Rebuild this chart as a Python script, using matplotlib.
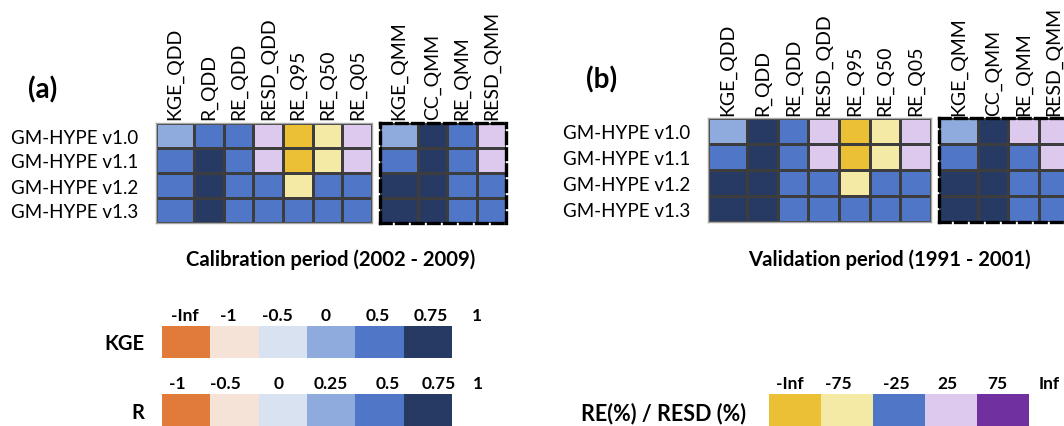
import numpy as np
import matplotlib
matplotlib.use("Agg")
import matplotlib.pyplot as plt
from matplotlib.colors import ListedColormap
from matplotlib.transforms import blended_transform_factory

plt.rcParams['font.family'] = ['Lato', 'DejaVu Sans']

W, H = 1064, 427

# ---------------------------------------------------------------- data
models = ["GM-HYPE v1.0", "GM-HYPE v1.1", "GM-HYPE v1.2", "GM-HYPE v1.3"]
daily_metrics = ["KGE_QDD", "R_QDD", "RE_QDD", "RESD_QDD", "RE_Q95", "RE_Q50", "RE_Q05"]
monthly_metrics = ["KGE_QMM", "CC_QMM", "RE_QMM", "RESD_QMM"]
daily_kind = ["KGE", "R", "RE", "RE", "RE", "RE", "RE"]
monthly_kind = ["KGE", "R", "RE", "RE"]

# calibration period 2002-2009 (rows: v1.0 .. v1.3)
cal_kge_qdd = [0.40, 0.62, 0.66, 0.70]
cal_r_qdd = [0.72, 0.80, 0.82, 0.83]
cal_re_qdd = [-12, 6, 4, 2]
cal_resd_qdd = [36, 31, 12, 8]
cal_re_q95 = [-86, -81, -58, -18]
cal_re_q50 = [-41, -36, -14, -9]
cal_re_q05 = [42, 33, 16, 11]
cal_kge_qmm = [0.46, 0.71, 0.80, 0.82]
cal_cc_qmm = [0.86, 0.88, 0.90, 0.90]
cal_re_qmm = [-11, 5, 3, 2]
cal_resd_qmm = [31, 29, 15, 12]

# validation period 1991-2001
val_kge_qdd = [0.42, 0.61, 0.76, 0.78]
val_r_qdd = [0.78, 0.80, 0.82, 0.83]
val_re_qdd = [16, 11, 5, 3]
val_resd_qdd = [37, 30, 12, 8]
val_re_q95 = [-85, -80, -55, -20]
val_re_q50 = [-35, -31, -15, -10]
val_re_q05 = [46, 35, 15, 10]
val_kge_qmm = [0.45, 0.70, 0.80, 0.82]
val_cc_qmm = [0.86, 0.88, 0.90, 0.90]
val_re_qmm = [31, 20, 10, 5]
val_resd_qmm = [35, 30, 15, 10]

# class boundaries and legend labels
kge_bounds = [-np.inf, -1, -0.5, 0, 0.5, 0.75, 1]
r_bounds = [-1, -0.5, 0, 0.25, 0.5, 0.75, 1]
re_bounds = [-np.inf, -75, -25, 25, 75, np.inf]
kge_ticklabels = ["-Inf", "-1", "-0.5", "0", "0.5", "0.75", "1"]
r_ticklabels = ["-1", "-0.5", "0", "0.25", "0.5", "0.75", "1"]
re_ticklabels = ["-Inf", "-75", "-25", "25", "75", "Inf"]

# ---------------------------------------------------------------- colours
kge_colors = ["#E07B39", "#F5E3D7", "#D9E2F0", "#8FAADC", "#5077C7", "#263A63"]
re_colors = ["#EBC034", "#F4EAA6", "#5077C7", "#DEC9EE", "#7030A0"]
cell_cmap = ListedColormap(kge_colors + re_colors)
GRID = "#3d3d3d"


def classify(values, kind):
    v = np.asarray(values, dtype=float)
    if kind == "KGE":
        return np.digitize(v, kge_bounds[1:-1])
    if kind == "R":
        return np.digitize(v, r_bounds[1:-1])
    return np.digitize(v, re_bounds[1:-1]) + len(kge_colors)


def codes_for(columns, kinds):
    return np.column_stack([classify(c, k) for c, k in zip(columns, kinds)])


cal_daily = codes_for([cal_kge_qdd, cal_r_qdd, cal_re_qdd, cal_resd_qdd,
                       cal_re_q95, cal_re_q50, cal_re_q05], daily_kind)
cal_monthly = codes_for([cal_kge_qmm, cal_cc_qmm, cal_re_qmm, cal_resd_qmm], monthly_kind)
val_daily = codes_for([val_kge_qdd, val_r_qdd, val_re_qdd, val_resd_qdd,
                       val_re_q95, val_re_q50, val_re_q05], daily_kind)
val_monthly = codes_for([val_kge_qmm, val_cc_qmm, val_re_qmm, val_resd_qmm], monthly_kind)

# ---------------------------------------------------------------- figure
fig = plt.figure(figsize=(W / 100, H / 100), dpi=100)
fig.patch.set_facecolor("white")


def px_axes(x0, y0, x1, y1):
    return fig.add_axes([x0 / W, 1 - y1 / H, (x1 - x0) / W, (y1 - y0) / H])


def px_text(x, y, s, **kw):
    fig.text(x / W, 1 - y / H, s, **kw)


def draw_block(ax, codes, labels, dashed, row_pad=None, label_pad=3):
    widths = [1.28] + [1.0] * (codes.shape[1] - 1)
    xe = np.concatenate([[0], np.cumsum(widths)])
    ye = np.arange(codes.shape[0] + 1)
    ax.pcolormesh(xe, ye, codes, cmap=cell_cmap, vmin=-0.5, vmax=10.5,
                  edgecolors=GRID, linewidth=1.0)
    ax.set_xlim(0, xe[-1])
    ax.set_ylim(codes.shape[0], 0)
    ax.xaxis.tick_top()
    ax.set_xticks((xe[:-1] + xe[1:]) / 2, labels, rotation=90, fontsize=14)
    ax.tick_params(axis="x", length=0, pad=label_pad)
    if row_pad is not None:
        ax.set_yticks(ye[:-1] + 0.5, models, fontsize=13.5)
        ax.tick_params(axis="y", length=0, pad=row_pad)
    else:
        ax.set_yticks([])
    for sp in ax.spines.values():
        if dashed:
            sp.set_color("black")
            sp.set_linewidth(2.4)
            sp.set_linestyle((0, (3.2, 1.6)))
        else:
            sp.set_color("#a8a8a8")
            sp.set_linewidth(1.0)
            sp.set_linestyle((0, (1, 1)))


# panel (a): calibration
draw_block(px_axes(156, 124, 372, 224), cal_daily, daily_metrics, False, row_pad=12.5, label_pad=3)
draw_block(px_axes(380, 124, 506, 224), cal_monthly, monthly_metrics, True, label_pad=3)
# panel (b): validation
draw_block(px_axes(708, 119, 931, 223), val_daily, daily_metrics, False, row_pad=13, label_pad=2)
draw_block(px_axes(939, 119, 1069, 223), val_monthly, monthly_metrics, True, label_pad=2)

px_text(43, 90, "(a)", fontsize=20, fontweight="bold", ha="center", va="center")
px_text(602, 80, "(b)", fontsize=20, fontweight="bold", ha="center", va="center")
px_text(331, 260, "Calibration period (2002 - 2009)", fontsize=14.6,
        fontweight="bold", ha="center", va="center")
px_text(889, 260, "Validation period (1991 - 2001)", fontsize=14.6,
        fontweight="bold", ha="center", va="center")


def draw_legend(ax, colors, ticklabels, label_x):
    n = len(colors)
    ax.imshow(np.arange(n)[None, :], cmap=ListedColormap(colors), vmin=-0.5,
              vmax=n - 0.5, aspect="auto", extent=(-0.5, n - 0.5, 1, 0))
    ax.set_axis_off()
    tr = blended_transform_factory(ax.transData, ax.transAxes)
    for x, s in zip(label_x, ticklabels):
        ax.text(x, 1.33, s, transform=tr, ha="center", va="center",
                fontsize=12.5, fontweight="bold", clip_on=False)


draw_legend(px_axes(162, 327, 452, 359), kge_colors, kge_ticklabels,
            [-0.02, 0.88, 1.88, 2.89, 3.97, 5.07, 6.02])
draw_legend(px_axes(162, 395, 452, 428), kge_colors, r_ticklabels,
            [-0.18, 0.82, 1.92, 3.0, 4.18, 5.22, 6.04])
draw_legend(px_axes(769, 395, 1029, 428), re_colors, re_ticklabels,
            [-0.1, 0.84, 1.94, 2.94, 3.9, 4.88])

px_text(144, 344, "KGE", fontsize=14.5, fontweight="bold", ha="right", va="center")
px_text(144, 413, "R", fontsize=14.5, fontweight="bold", ha="right", va="center")
px_text(746, 414, "RE(%) / RESD (%)", fontsize=15.5, fontweight="bold", ha="right", va="center")

fig.savefig("out.png", dpi=100, facecolor="white")
